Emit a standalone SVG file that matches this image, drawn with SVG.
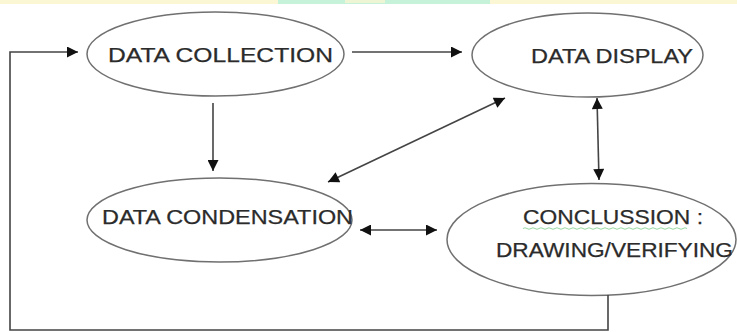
<svg xmlns="http://www.w3.org/2000/svg" width="737" height="332" viewBox="0 0 737 332">
<style>
.node ellipse{fill:#fff;stroke:#707070;stroke-width:1.5}
.lbl{font-family:"Liberation Sans",Arial,sans-serif;font-size:20px;fill:#2b2b2b;stroke:#2b2b2b;stroke-width:0.25}
.conn line,.conn polyline{fill:none;stroke:#444;stroke-width:1.6}
</style>
<defs>
<marker id="ah" viewBox="0 0 10 10" refX="10" refY="5" markerUnits="userSpaceOnUse" markerWidth="13" markerHeight="11" orient="auto-start-reverse">
<path d="M0,0 L10,5 L0,10 z" fill="#111"/>
</marker>
</defs>
<rect x="0" y="0" width="737" height="332" fill="#fff"/>
<rect x="0" y="0" width="737" height="4" fill="#fbf7d4"/>
<rect x="278" y="0" width="212" height="4" fill="#c6f2da"/>
<rect x="345" y="0" width="40" height="3" fill="#edf5d4"/>
<g id="data-collection" class="node">
<ellipse cx="215.5" cy="54" rx="128.5" ry="42"/>
<text class="lbl" x="108" y="62" textLength="225" lengthAdjust="spacingAndGlyphs">DATA COLLECTION</text>
</g>
<g id="data-display" class="node">
<ellipse cx="587.5" cy="55" rx="115.5" ry="42"/>
<text class="lbl" x="531" y="63" textLength="162" lengthAdjust="spacingAndGlyphs">DATA DISPLAY</text>
</g>
<g id="data-condensation" class="node">
<ellipse cx="219.5" cy="220" rx="132.5" ry="42"/>
<text class="lbl" x="102" y="224" textLength="251" lengthAdjust="spacingAndGlyphs">DATA CONDENSATION</text>
</g>
<g id="conclusion" class="node">
<ellipse cx="591.5" cy="239.5" rx="144.5" ry="56"/>
<text class="lbl" x="523" y="224" textLength="180" lengthAdjust="spacingAndGlyphs">CONCLUSSION :</text>
<path d="M523,228.5 q2,-1.5 4,0 t4,0 t4,0 t4,0 t4,0 t4,0 t4,0 t4,0 t4,0 t4,0 t4,0 t4,0 t4,0 t4,0 t4,0 t4,0 t4,0 t4,0 t4,0 t4,0 t4,0 t4,0 t4,0 t4,0 t4,0 t4,0 t4,0 t4,0 t4,0 t4,0 t4,0 t4,0 t4,0 t4,0 t4,0 t4,0 t4,0 t4,0 t4,0 t4,0 t4,0" fill="none" stroke="#7ccf8a" stroke-width="0.8"/>
<text class="lbl" x="496" y="257" textLength="237" lengthAdjust="spacingAndGlyphs">DRAWING/VERIFYING</text>
</g>
<g id="connectors" class="conn">
<polyline points="608,295 608,330 10,330 10,52 78,52" marker-end="url(#ah)"/>
<line x1="352" y1="52" x2="462" y2="52" marker-end="url(#ah)"/>
<line x1="213" y1="103" x2="213" y2="171" marker-end="url(#ah)"/>
<line x1="505" y1="98" x2="328" y2="182" marker-start="url(#ah)" marker-end="url(#ah)"/>
<line x1="597" y1="98" x2="599" y2="180" marker-start="url(#ah)" marker-end="url(#ah)"/>
<line x1="360" y1="230" x2="437" y2="230" marker-start="url(#ah)" marker-end="url(#ah)"/>
</g>
</svg>
